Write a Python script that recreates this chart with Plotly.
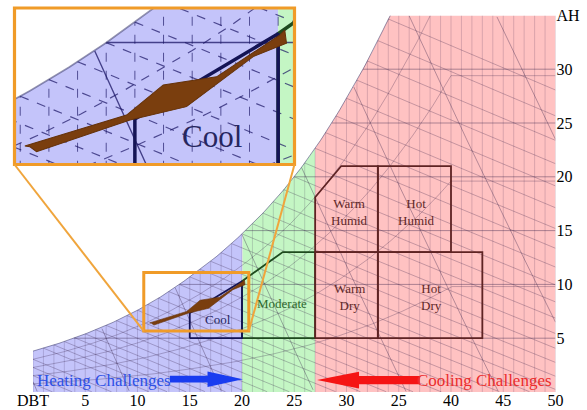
import numpy as np
import plotly.graph_objects as go

# ---------------- data ----------------
sat_dbt = [0, 5, 10, 15, 20, 25, 30, 35, 40]
sat_ah = [3.8, 5.4, 7.6, 10.7, 14.7, 20.0, 27.3, 36.8, 49.0]

region_bounds = [0, 20, 27, 50]
region_colors = ["rgb(196,196,250)", "rgb(196,246,196)", "rgb(255,194,194)"]

x_tickvals = [0, 5, 10, 15, 20, 25, 30, 35, 40, 45, 50]
x_ticktext = ["DBT", "5", "10", "15", "20", "25", "30", "25", "40", "45", "50"]
y_tickvals = [5, 10, 15, 20, 25, 30, 35]
y_ticktext = ["5", "10", "15", "20", "25", "30", "AH"]

cool_dbt = [15, 20, 20, 15, 15]
cool_ah = [5, 5, 10.3, 7.35, 5]
moderate_dbt = [20, 27, 27, 23.9, 20, 20]
moderate_ah = [5, 5, 13, 13, 10.3, 5]
warm_humid_dbt = [27, 33, 33, 29.5, 27, 27]
warm_humid_ah = [13, 13, 21, 21, 18.1, 13]
hot_humid_dbt = [33, 40, 40, 33, 33]
hot_humid_ah = [13, 13, 21, 21, 13]
warm_dry_dbt = [27, 33, 33, 27, 27]
warm_dry_ah = [5, 5, 13, 13, 5]
hot_dry_dbt = [33, 43, 43, 33, 33]
hot_dry_ah = [5, 5, 13, 13, 5]

zone_labels = ["Cool", "Moderate", "Warm<br>Humid", "Hot<br>Humid", "Warm<br>Dry", "Hot<br>Dry"]
label_dbt = [17.7, 23.8, 30.3, 36.7, 30.3, 38.1]
label_ah = [6.75, 8.25, 16.7, 16.7, 8.85, 8.85]

brown_dbt = [11.16, 14.71, 15.99, 17.03, 17.85, 20.06, 20.23, 20.29, 19.13, 16.80, 15.99, 14.83, 11.57, 11.34]
brown_ah = [6.42, 7.49, 8.53, 8.70, 8.81, 10.26, 10.43, 9.97, 9.51, 7.78, 7.60, 7.32, 6.22, 6.39]

zoom_dbt = [10.6, 20.65]
zoom_ah = [5.66, 11.1]

# ---------------- layout geometry ----------------
W, H = 587, 410
L, R, B, T = 33, 555.5, 392, 15.4
IL, IR, IT, IB = 14.5, 294.5, 8, 164.5
inset_x = [10.80, 20.57]
inset_y = [5.78, 11.19]

SERIF = "Liberation Serif"


def wsat(t):
    return np.exp(np.interp(t, sat_dbt, np.log(sat_ah)))


def segs(t, w, mask):
    xs, ys = [], []
    run = False
    for ti, wi, m in zip(t, w, mask):
        if m:
            xs.append(float(ti)); ys.append(float(wi)); run = True
        elif run:
            xs.append(None); ys.append(None); run = False
    if run:
        xs.append(None); ys.append(None)
    return xs, ys


# grid lines (psychrometric chart furniture)
vx, vy = [], []
for t in range(0, 51):
    vx += [t, t, None]
    vy += [0, float(min(wsat(t), 35)), None]

hx, hy = [], []
for w in [5, 10, 15, 20, 25, 30]:
    td = float(np.interp(np.log(w), np.log(sat_ah), sat_dbt))
    hx += [td, 50, None]
    hy += [w, w, None]

tt = np.arange(0, 50.001, 0.1)
rx, ry = [], []
for rh in [0.2, 0.4, 0.6, 0.8]:
    w = rh * wsat(tt)
    a, b = segs(tt, w, w <= 35)
    rx += a; ry += b

ex, ey = [], []
hlist = []
for ts in range(1, 35):
    hlist.append((ts, 1.006 * ts + wsat(ts) / 1000 * (2501 + 1.86 * ts)))
h0 = wsat(0) / 1000 * 2501
for k in range(1, 5):
    hlist.append((0, h0 - 1.9 * k))
for ts, h in hlist:
    t = np.linspace(ts, 50, 400)
    w = (h - 1.006 * t) / (2501 + 1.86 * t) * 1000
    a, b = segs(t, w, (w >= 0) & (w <= 35) & (w <= wsat(t) + 1e-6))
    ex += a; ey += b

ox, oy = [], []
for v in [0.775, 0.8, 0.825, 0.85, 0.875, 0.9, 0.925, 0.95]:
    w = (v * 101.325 / (0.287042 * (tt + 273.15)) - 1) / 1.6078 * 1000
    a, b = segs(tt, w, (w >= 0) & (w <= np.minimum(wsat(tt), 35)))
    ox += a; oy += b

fig = go.Figure()


def add_all(xa, ya, inset):
    k = 1.7 if inset else 1.0
    for i in range(3):
        a, b = region_bounds[i], region_bounds[i + 1]
        t = np.linspace(a, b, 200)
        w = np.minimum(wsat(t), 35)
        fig.add_trace(go.Scatter(
            x=[a] + list(t) + [b, a], y=[0] + list(w) + [0, 0],
            fill="toself", fillcolor=region_colors[i], mode="lines",
            line=dict(width=0), hoverinfo="skip", showlegend=False,
            xaxis=xa, yaxis=ya))
    if inset:
        gcol = "rgba(25,20,100,0.7)"
        vcol = "rgba(25,20,100,0.65)"
        scol = "rgba(25,20,100,0.75)"
        dash_minor = "dash"
    else:
        gcol = "rgba(50,30,70,0.40)"
        vcol = "rgba(50,30,70,0.30)"
        scol = "rgba(50,30,70,0.45)"
        dash_minor = "solid"
    for xs, ys, wd, col, dsh in [
        (vx, vy, 0.6, vcol, dash_minor),
        (rx, ry, 0.7, gcol, dash_minor),
        (ex, ey, 0.7, gcol, dash_minor),
        (ox, oy, 0.8, scol, "solid"),
        (hx, hy, 0.9, scol, "solid"),
    ]:
        fig.add_trace(go.Scatter(x=xs, y=ys, mode="lines",
                                 line=dict(color=col, width=wd * k, dash=dsh),
                                 hoverinfo="skip", showlegend=False,
                                 xaxis=xa, yaxis=ya))
    ts = np.linspace(0, 34.2, 200)
    fig.add_trace(go.Scatter(x=ts, y=np.minimum(wsat(ts), 35), mode="lines",
                             line=dict(color="rgba(60,60,110,0.55)", width=1 * k),
                             hoverinfo="skip", showlegend=False, xaxis=xa, yaxis=ya))
    lw = 3.5 if inset else 1.8
    for xs, ys, col in [
        (moderate_dbt, moderate_ah, "rgb(30,75,30)"),
        (cool_dbt, cool_ah, "rgb(20,20,85)"),
        (warm_dry_dbt, warm_dry_ah, "rgb(95,35,35)"),
        (hot_dry_dbt, hot_dry_ah, "rgb(95,35,35)"),
        (warm_humid_dbt, warm_humid_ah, "rgb(95,35,35)"),
        (hot_humid_dbt, hot_humid_ah, "rgb(95,35,35)"),
    ]:
        fig.add_trace(go.Scatter(x=xs, y=ys, mode="lines",
                                 line=dict(color=col, width=lw),
                                 hoverinfo="skip", showlegend=False,
                                 xaxis=xa, yaxis=ya))
    fig.add_trace(go.Scatter(x=brown_dbt + [brown_dbt[0]], y=brown_ah + [brown_ah[0]],
                             fill="toself", fillcolor="rgb(122,62,14)", mode="lines",
                             line=dict(color="rgb(100,50,10)", width=0.6 * k),
                             hoverinfo="skip", showlegend=False, xaxis=xa, yaxis=ya))


add_all("x", "y", False)
add_all("x2", "y2", True)

label_cols = ["rgb(38,38,95)", "rgb(45,105,45)", "rgb(95,40,40)", "rgb(95,40,40)",
              "rgb(95,40,40)", "rgb(95,40,40)"]
ann = []
for txt, xv, yv, c in zip(zone_labels, label_dbt, label_ah, label_cols):
    ann.append(dict(x=xv, y=yv, xref="x", yref="y", text=txt, showarrow=False,
                    font=dict(family=SERIF, size=13, color=c)))
ann.append(dict(x=label_dbt[0], y=label_ah[0], xref="x2", yref="y2", text=zone_labels[0],
                showarrow=False, font=dict(family=SERIF, size=31, color=label_cols[0])))
ann.append(dict(x=0.2, y=1.05, xref="x", yref="y", text="Heating Challenges",
                xanchor="left", yanchor="middle", showarrow=False,
                font=dict(family=SERIF, size=17, color="rgb(45,80,230)")))
ann.append(dict(x=49.9, y=1.05, xref="x", yref="y", text="Cooling Challenges",
                xanchor="right", yanchor="middle", showarrow=False,
                font=dict(family=SERIF, size=17, color="rgb(235,45,45)")))


def path(pts):
    return "M " + " L ".join(f"{a},{b}" for a, b in pts) + " Z"


def arrow(tail, base, tip, yc, sh, hh):
    return [(tail, yc - sh), (base, yc - sh), (base, yc - hh), (tip, yc),
            (base, yc + hh), (base, yc + sh), (tail, yc + sh)]


shapes = [
    dict(type="path", xref="x", yref="y", line=dict(width=0), fillcolor="rgb(25,60,240)",
         path=path(arrow(13.1, 16.7, 20.08, 1.19, 0.31, 0.72))),
    dict(type="path", xref="x", yref="y", line=dict(width=0), fillcolor="rgb(245,20,20)",
         path=path(arrow(37.0, 31.2, 27.18, 1.11, 0.38, 0.78))),
    dict(type="rect", xref="x", yref="y", x0=zoom_dbt[0], x1=zoom_dbt[1], y0=zoom_ah[0],
         y1=zoom_ah[1], line=dict(color="rgb(240,155,40)", width=3)),
]


def mx(t):
    return (L + t / 50 * (R - L)) / W


def my(w):
    return 1 - (B - w / 35 * (B - T)) / H


shapes.append(dict(type="rect", xref="paper", yref="paper", x0=IL / W, x1=IR / W,
                   y0=1 - IB / H, y1=1 - IT / H, line=dict(color="rgb(240,155,40)", width=3.2)))
shapes.append(dict(type="line", xref="paper", yref="paper", x0=IL / W, y0=1 - IB / H,
                   x1=mx(zoom_dbt[0]), y1=my(zoom_ah[0]),
                   line=dict(color="rgb(240,165,60)", width=2)))
shapes.append(dict(type="line", xref="paper", yref="paper", x0=IR / W, y0=1 - IB / H,
                   x1=mx(zoom_dbt[1]), y1=my(zoom_ah[0]),
                   line=dict(color="rgb(240,165,60)", width=2)))

fig.update_layout(
    template="none",
    width=W, height=H,
    margin=dict(l=0, r=0, t=0, b=0),
    paper_bgcolor="white", plot_bgcolor="white",
    font=dict(family=SERIF, size=16, color="black"),
    showlegend=False,
    xaxis=dict(domain=[L / W, R / W], range=[0, 50], tickvals=x_tickvals, ticktext=x_ticktext,
               showgrid=False, zeroline=False, showline=False, ticks="", automargin=False,
               tickfont=dict(family=SERIF, size=16), fixedrange=True,
               ticklabelstandoff=-3),
    yaxis=dict(domain=[1 - B / H, 1 - T / H], range=[0, 35], tickvals=y_tickvals,
               ticktext=y_ticktext, side="right", showgrid=False, zeroline=False,
               showline=False, ticks="", automargin=False,
               tickfont=dict(family=SERIF, size=16), fixedrange=True),
    xaxis2=dict(domain=[IL / W, IR / W], range=inset_x, visible=False, fixedrange=True,
                anchor="y2"),
    yaxis2=dict(domain=[1 - IB / H, 1 - IT / H], range=inset_y, visible=False,
                fixedrange=True, anchor="x2"),
    annotations=ann,
    shapes=shapes,
)

fig.write_html("out.html", config={"displayModeBar": False},
               post_script="document.body.style.margin='0px';document.body.style.overflow='hidden';")
